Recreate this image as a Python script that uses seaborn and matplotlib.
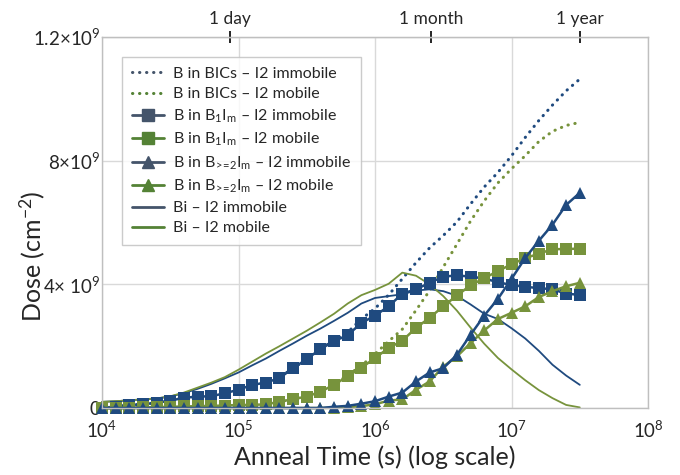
import numpy as np
import pandas as pd
import matplotlib
matplotlib.use("Agg")
import matplotlib.pyplot as plt
from matplotlib.lines import Line2D
import seaborn as sns

# anneal times: 36 samples, every 0.1 decade from 1e4 s to ~1 year
anneal_time = np.logspace(4, 7.5, 36)

# doses in units of 1e9 cm^-2
bics_immobile = [0.0, 0.04, 0.1, 0.12, 0.17, 0.24, 0.33, 0.37, 0.39, 0.48, 0.59, 0.74, 0.84,
                 0.99, 1.29, 1.58, 1.9, 2.2, 2.45, 2.88, 3.22, 3.66, 4.18, 4.7, 5.18, 5.58,
                 6.02, 6.6, 7.15, 7.62, 8.16, 8.75, 9.3, 9.8, 10.26, 10.64]
bics_mobile = [0.0, 0.0, 0.01, 0.02, 0.03, 0.04, 0.05, 0.06, 0.07, 0.08, 0.1, 0.11, 0.13,
               0.2, 0.29, 0.38, 0.53, 0.76, 1.06, 1.37, 1.75, 2.16, 2.55, 3.16, 3.8, 4.56,
               5.3, 6.05, 6.7, 7.28, 7.74, 8.16, 8.62, 8.95, 9.14, 9.24]
b1im_immobile = [0.0, 0.04, 0.1, 0.12, 0.17, 0.24, 0.33, 0.37, 0.38, 0.48, 0.59, 0.75, 0.82,
                 0.97, 1.29, 1.58, 1.91, 2.16, 2.36, 2.75, 2.99, 3.29, 3.7, 3.84, 4.05, 4.25,
                 4.29, 4.25, 4.19, 4.07, 3.98, 3.92, 3.88, 3.84, 3.7, 3.66]
b1im_mobile = [0.0, 0.0, 0.01, 0.02, 0.03, 0.04, 0.05, 0.06, 0.07, 0.08, 0.1, 0.1, 0.12,
               0.2, 0.29, 0.37, 0.53, 0.75, 1.03, 1.3, 1.62, 1.94, 2.18, 2.59, 2.92, 3.29,
               3.64, 3.97, 4.2, 4.43, 4.65, 4.85, 4.99, 5.14, 5.14, 5.16]
b2im_immobile = [0.0, 0.0, 0.0, 0.0, 0.0, 0.0, 0.0, 0.0, 0.0, 0.0, 0.0, 0.0, 0.0,
                 0.0, 0.0, 0.0, 0.0, 0.04, 0.07, 0.14, 0.22, 0.37, 0.5, 0.86, 1.15, 1.29,
                 1.72, 2.37, 2.99, 3.53, 4.18, 4.85, 5.41, 5.93, 6.57, 6.96]
b2im_mobile = [0.0, 0.0, 0.0, 0.0, 0.0, 0.0, 0.0, 0.0, 0.0, 0.0, 0.0, 0.0, 0.0,
               0.0, 0.0, 0.0, 0.0, 0.01, 0.03, 0.06, 0.12, 0.24, 0.28, 0.59, 0.86, 1.34,
               1.67, 2.1, 2.51, 2.88, 3.08, 3.29, 3.59, 3.78, 3.94, 4.05]
bi_immobile = [0.2, 0.22, 0.25, 0.28, 0.31, 0.37, 0.48, 0.62, 0.78, 0.96, 1.15, 1.38, 1.6,
               1.85, 2.09, 2.34, 2.57, 2.82, 3.08, 3.38, 3.56, 3.62, 3.68, 3.8, 3.84, 3.78,
               3.63, 3.35, 3.05, 2.88, 2.58, 2.25, 1.85, 1.4, 1.05, 0.75]
bi_mobile = [0.2, 0.22, 0.25, 0.28, 0.31, 0.38, 0.5, 0.66, 0.82, 1.0, 1.24, 1.5, 1.76,
             2.0, 2.25, 2.5, 2.77, 3.05, 3.38, 3.65, 3.82, 4.02, 4.38, 4.28, 4.0, 3.62,
             3.15, 2.6, 2.08, 1.62, 1.25, 0.9, 0.58, 0.32, 0.1, 0.02]

y_ticks = [0, 4, 8, 12]
y_ticklabels = ["0", "4× 10$^9$", "8×10$^9$", "1.2×10$^9$"]
x_ticks = [1e4, 1e5, 1e6, 1e7, 1e8]
x_ticklabels = ["10$^4$", "10$^5$", "10$^6$", "10$^7$", "10$^8$"]
top_ticks = [86400, 2.592e6, 3.156e7]
top_labels = ["1 day", "1 month", "1 year"]

BLUE = "#1f4a7f"
GREEN = "#77933c"
LEG_BLUE = "#44546a"
LEG_GREEN = "#548235"

sns.set_style("whitegrid", {"grid.color": "#d9d9d9", "axes.edgecolor": "#bfbfbf"})
plt.rcParams["font.family"] = ["Lato", "DejaVu Sans"]
plt.rcParams["mathtext.fontset"] = "custom"
plt.rcParams["mathtext.rm"] = "Lato"
plt.rcParams["mathtext.default"] = "regular"

fig = plt.figure(figsize=(6.8, 4.75), dpi=100)
ax = fig.add_axes([0.15, 0.141, 0.803, 0.781])

dot = (0, (0.1, 2.2))
series = [
    (bics_immobile, BLUE, dict(linestyle=dot, linewidth=2.2, dash_capstyle="round")),
    (bics_mobile, GREEN, dict(linestyle=dot, linewidth=2.2, dash_capstyle="round")),
    (bi_immobile, BLUE, dict(linewidth=1.3)),
    (bi_mobile, GREEN, dict(linewidth=1.3)),
    (b1im_immobile, BLUE, dict(linewidth=1.8, marker="s", markersize=9, markeredgewidth=0)),
    (b1im_mobile, GREEN, dict(linewidth=1.8, marker="s", markersize=9, markeredgewidth=0)),
    (b2im_mobile, GREEN, dict(linewidth=1.8, marker="^", markersize=9, markeredgewidth=0)),
    (b2im_immobile, BLUE, dict(linewidth=1.8, marker="^", markersize=9, markeredgewidth=0)),
]
for vals, col, kw in series:
    df = pd.DataFrame({"t": anneal_time, "dose": vals})
    sns.lineplot(data=df, x="t", y="dose", color=col, ax=ax, clip_on=False, **kw)

ax.set_xscale("log")
ax.set_xlim(1e4, 1e8)
ax.set_ylim(0, 12)
ax.set_xticks(x_ticks)
ax.set_xticklabels(x_ticklabels, fontsize=13.5)
ax.minorticks_off()
ax.set_yticks(y_ticks)
ax.set_yticklabels(y_ticklabels, fontsize=13.5)
ax.tick_params(axis="x", length=0, pad=8)
ax.tick_params(axis="y", length=0, pad=1)
ax.grid(True, color="#d9d9d9", linewidth=1)
for s in ax.spines.values():
    s.set_color("#bfbfbf")
    s.set_linewidth(1)
ax.set_xlabel("Anneal Time (s) (log scale)", fontsize=18, labelpad=4)
ax.set_ylabel("Dose (cm$^{-2}$)", fontsize=18)
ax.yaxis.set_label_coords(-0.1, 0.41)

top = ax.secondary_xaxis("top")
top.set_xticks(top_ticks)
top.set_xticklabels(top_labels, fontsize=12.5)
top.minorticks_off()
top.tick_params(direction="inout", length=8, width=1.2, color="black", pad=3)
top.spines["top"].set_color("#bfbfbf")

handles = [
    Line2D([], [], color=LEG_BLUE, linestyle=dot, linewidth=2.2, dash_capstyle="round"),
    Line2D([], [], color=LEG_GREEN, linestyle=dot, linewidth=2.2, dash_capstyle="round"),
    Line2D([], [], color=LEG_BLUE, linewidth=2, marker="s", markersize=9),
    Line2D([], [], color=LEG_GREEN, linewidth=2, marker="s", markersize=9),
    Line2D([], [], color=LEG_BLUE, linewidth=2, marker="^", markersize=9),
    Line2D([], [], color=LEG_GREEN, linewidth=2, marker="^", markersize=9),
    Line2D([], [], color=LEG_BLUE, linewidth=2),
    Line2D([], [], color=LEG_GREEN, linewidth=2),
]
labels = [
    "B in BICs – I2 immobile",
    "B in BICs – I2 mobile",
    "B in B$_1$I$_m$ – I2 immobile",
    "B in B$_1$I$_m$ – I2 mobile",
    r"B in B$_{\!>\!\!=\!2}$I$_m$ – I2 immobile",
    r"B in B$_{\!>\!\!=\!2}$I$_m$ – I2 mobile",
    "Bi – I2 immobile",
    "Bi – I2 mobile",
]
leg = ax.legend(handles, labels, loc="upper left", bbox_to_anchor=(0.037, 0.946),
                borderaxespad=0, fontsize=11.5, frameon=True, fancybox=False,
                handlelength=2.0, labelspacing=0.38, borderpad=0.6, handletextpad=0.6)
leg.get_frame().set_edgecolor("#bfbfbf")
leg.get_frame().set_linewidth(1)

fig.savefig("out.png", dpi=100)
